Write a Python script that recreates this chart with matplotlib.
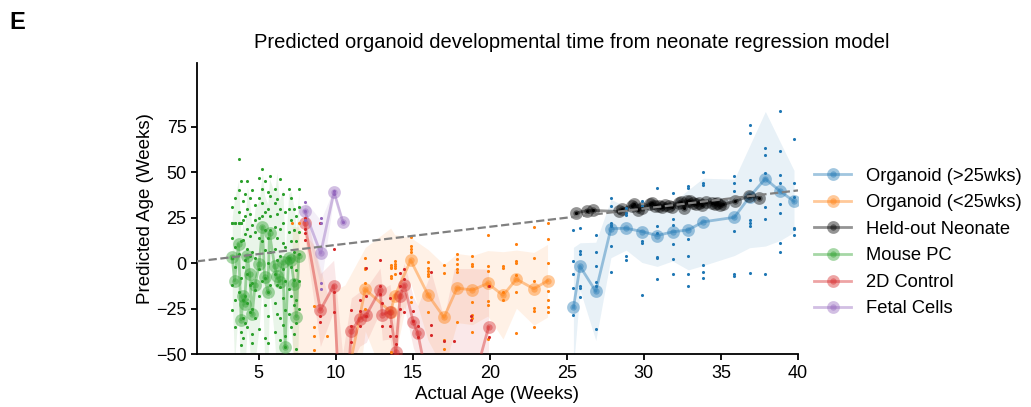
import matplotlib
matplotlib.use("Agg")
import matplotlib.pyplot as plt

plt.rcParams['font.family'] = ['Liberation Sans', 'DejaVu Sans']
plt.rcParams['font.size'] = 13

# ---- Organoid (>25 weeks) ----
org_late_weeks = [25.43, 25.86, 26.88, 27.86, 28.85, 29.87, 30.86, 31.86, 32.88,
                  33.85, 35.87, 36.86, 37.88, 38.85, 39.74]
org_late_mean = [-24.3, -1.8, -15.5, 19.0, 19.2, 17.4, 15.2, 17.2, 18.3,
                 22.7, 25.2, 36.5, 46.4, 39.5, 34.0]
org_late_spread = [33, 13, 27, 16, 12, 17, 17, 16, 22, 24, 21, 28, 37, 27, 17]
org_late_samples = [
    [18.3, 1.3, -6.0, -13.5, -28.5],
    [19.6, 6.8, 4.9, -12.4, -13.9, -18.8],
    [15.4, 6.2, -1.5, -10.6, -12.4, -36.2],
    [36.0, 31.4, 22.3, 21.0, 20.4, 9.5, -4.8],
    [30.2, 27.8, 26.3, 4.0, 1.6],
    [34.2, 31.4, 12.2, 11.3, -17.5],
    [41.5, 20.4, 16.8, 3.5, 2.9, -8.8],
    [38.8, 24.1, 21.0, 10.8, 2.2, -6.0],
    [42.4, 41.5, 13.5, 4.0, -5.7, -12.4],
    [50.1, 43.9, 42.8, -0.9, -4.8, -7.9],
    [47.9, 43.9, 39.7, 17.7, -5.7, -7.3],
    [76.2, 71.3, 45.7, 23.6, 21.9, 20.4, -5.5],
    [63.4, 59.2, 49.3, 31.1, 24.5, -6.0],
    [83.5, 61.6, 48.2, 44.2, 32.3, 27.8, 11.3, 6.4],
    [68.4, 44.2, 36.6, 19.6, 18.6, 15.5],
]

# ---- Organoid (<25 weeks) ----
org_early_weeks = [7.19, 7.62, 8.59, 9.46, 10.6, 11.92, 13.57, 13.83, 14.87, 16.0,
                   17.03, 17.88, 18.88, 19.87, 20.86, 21.73, 22.86, 23.75]
org_early_mean = [-55, -60, -62, -75, -70, -14.4, -26.7, -18.3, 1.6, -17.5,
                  -29.8, -13.7, -14.8, -11.1, -17.7, -8.8, -14.1, -9.7]
org_early_spread = [75, 80, 72, 58, 58, 23, 46, 34, 12.5, 25,
                    29, 19, 19, 18, 24, 16, 20, 20]
org_early_samples = [
    [21.9],
    [21.9],
    [-23.4, -34.9, -39.8, -47.7],
    [-39.8],
    [],
    [3.1, -2.9, -3.3, -11.0, -25.0],
    [-0.9, -2.0, -2.9, -7.0, -8.4, -49.0],
    [1.3, -0.5, -1.8, -2.9, -6.0],
    [14.6, 9.5, 7.7, 6.2, -18.8, -21.6],
    [0.7, -2.9, -4.2, -6.0, -7.3, -27.0],
    [-1.1, -5.5, -42.2, -47.1],
    [4.9, 2.2, -0.5, -3.3, -5.1, -32.5],
    [4.0, -0.5, -1.8, -21.2, -28.5, -30.3, -38.0],
    [15.4, -1.8, -4.2, -12.4, -20.7, -23.0, -41.7],
    [-1.8, -2.9, -15.7, -20.1],
    [10.4, 1.3, 0.0, -6.6, -15.7, -38.4],
    [19.9, 2.7, -9.7, -24.8, -26.2, -35.3],
    [22.3, 13.2, 0.0, -15.2, -20.1, -24.3, -26.7],
]

# ---- Held-out neonate samples ----
neonate_weeks = [25.6, 26.3, 26.7, 28.4, 28.6, 29.2, 29.35, 29.65, 29.9, 30.4,
                 30.55, 30.75, 30.95, 31.15, 31.4, 31.6, 31.8, 32.25, 32.4, 32.6,
                 32.8, 33.0, 33.2, 33.4, 33.6, 33.75, 34.05, 34.4, 34.6, 34.75,
                 34.95, 35.15, 35.9, 36.85, 37.45]
neonate_pred = [27.6, 28.9, 29.0, 28.4, 29.5, 31.6, 32.6, 29.2, 30.5, 32.5,
                33.0, 31.5, 31.6, 30.8, 32.1, 31.3, 31.0, 33.1, 33.4, 30.5,
                34.2, 34.1, 33.3, 32.7, 33.2, 32.0, 33.6, 33.3, 32.6, 32.9,
                31.8, 32.3, 34.0, 36.9, 36.0]

# ---- Mouse PC ----
mouse_weeks = [3.29, 3.44, 3.70, 3.87, 4.01, 4.09, 4.27, 4.42, 4.59, 4.77,
               5.04, 5.25, 5.39, 5.60, 5.71, 6.04, 6.19, 6.36, 6.58, 6.72,
               6.95, 7.10, 7.31, 7.45, 7.61]
mouse_mean = [3.4, -9.7, 10.4, -31.2, -17.9, -22.5, 4.0, -6.0, -28.2, -12.0,
              -0.5, 19.8, -7.8, -15.7, 16.4, -1.5, -7.0, -10.2, 0.7, -46.0,
              3.1, 1.5, -11.5, -29.4, 4.2]
mouse_spread = [22, 45, 35, 45, 42, 40, 38, 40, 45, 42,
                35, 30, 45, 48, 30, 40, 57, 45, 40, 50,
                35, 38, 42, 48, 35]
mouse_samples = [
    [22, 22, 14, 3, -12, -26, 31],
    [22, 22, 36, -2, -20, -35, 9],
    [57, 22, 22, 40, 28, 5, -16],
    [22, 22, 45, 12, -8, -38, -45],
    [34, 24, 13, -2, -20, -30, -41],
    [38, 26, 16, 2, -18, -33],
    [45, 30, 19, 8, -6, -22, -35],
    [36, 27, 15, 4, -12, -27],
    [40, 21, 6, -11, -25, -39, -44],
    [32, 24, 17, 3, -15, -30],
    [47, 36, 25, 14, -3, -18, -36],
    [52, 41, 33, 26, 12, -10],
    [45, 28, 18, 7, -8, -23, -41],
    [39, 30, 14, 0, -16, -29, -44],
    [48, 37, 26, 18, 6, -12],
    [41, 33, 20, 8, -6, -22, -38],
    [35, 27, 14, 2, -12, -28],
    [46, 30, 19, 4, -13, -30, -42],
    [38, 22, 11, -3, -19, -34],
    [28, 9, -10, -26, -40, -46],
    [41, 30, 17, 3, -14, -28],
    [36, 24, 12, -2, -18, -35],
    [30, 18, 6, -9, -23, -39],
    [26, 12, -4, -20, -33, -47],
    [41, 31, 17, 5, -10, -25],
]

# ---- 2D Control ----
control_weeks = [7.99, 9.01, 9.87, 10.45, 11.02, 11.56, 11.99, 12.88, 13.03, 13.53,
                 13.90, 14.18, 14.46, 15.04, 15.33, 16.2, 17.03, 17.7, 18.8, 19.92]
control_mean = [22.3, -25.8, -12.4, -110, -37.1, -30.7, -28.5, -14.8, -28.3, -26.7,
                -49.0, -18.3, -12.1, -32.5, -38.4, -75, -90, -85, -70, -35.3]
control_spread = [8, 20, 14, 60, 18, 15, 15, 12, 14, 15,
                  14, 12, 12, 14, 15, 70, 60, 82, 67, 32]
control_samples = [
    [25.0, 18.6, 16.8, 12.6],
    [22.3, -28.9, -32.5],
    [7.7, -16.1, -27.0],
    [],
    [-25.8, -34.4, -43.5],
    [-20.1, -26.1, -34.4],
    [-2.4, -17.9, -28.9],
    [1.6, -12.4, -17.0],
    [-22.0, -34.4],
    [-19.0, -34.4, -40.0],
    [-39.9, -44.4],
    [-5.5, -12.8, -25.2],
    [-3.3, -8.8, -27.0],
    [-26.1, -31.6],
    [-34.4, -40.7],
    [-5.1, -34.0, -39.7],
    [-42.6],
    [-42.9],
    [-29.2, -31.1],
    [-12.8, -40.7],
]

# ---- Fetal cells ----
fetal_weeks = [7.99, 9.03, 9.89, 10.47]
fetal_mean = [28.7, 5.5, 39.1, 22.6]
fetal_spread = [6, 18, 2, 1]
fetal_samples = [
    [33.6, 28.7, 24.0],
    [25.0, 22.3, -14.3, -11.0],
    [39.7, 37.8],
    [22.6],
]

x_ticks = [5, 10, 15, 20, 25, 30, 35, 40]
y_ticks = [-50, -25, 0, 25, 50, 75]

C_BLUE, C_ORANGE, C_GREEN = '#1f77b4', '#ff7f0e', '#2ca02c'
C_RED, C_PURPLE = '#d62728', '#9467bd'

fig = plt.figure(figsize=(10.31, 4.07), dpi=100)
ax = fig.add_axes([0.191, 0.130, 0.583, 0.715])

# mean markers: a wide translucent edge that covers the whole face gives a
# darker core with a soft halo around it
MEAN_STYLE = dict(marker='o', lw=2, ms=4.6, mew=4.6, alpha=0.42, zorder=3)
DOT_SIZE = 5


def draw_group(weeks, mean, spread, samples, color, label):
    lo = [m - s for m, s in zip(mean, spread)]
    hi = [m + s for m, s in zip(mean, spread)]
    ax.fill_between(weeks, lo, hi, color=color, alpha=0.1, lw=0, zorder=1)
    line, = ax.plot(weeks, mean, color=color, label=label, **MEAN_STYLE)
    for t, vals in zip(weeks, samples):
        ax.scatter([t] * len(vals), vals, s=DOT_SIZE, color=color, lw=0, zorder=4)
    return line


h_late = draw_group(org_late_weeks, org_late_mean, org_late_spread,
                    org_late_samples, C_BLUE, 'Organoid (>25wks)')
h_early = draw_group(org_early_weeks, org_early_mean, org_early_spread,
                     org_early_samples, C_ORANGE, 'Organoid (<25wks)')
h_neo, = ax.plot(neonate_weeks, neonate_pred, color='black',
                 label='Held-out Neonate', **MEAN_STYLE)
ax.scatter(neonate_weeks, neonate_pred, s=DOT_SIZE, color='black', lw=0, zorder=4)
h_mouse = draw_group(mouse_weeks, mouse_mean, mouse_spread, mouse_samples,
                     C_GREEN, 'Mouse PC')
h_ctrl = draw_group(control_weeks, control_mean, control_spread,
                    control_samples, C_RED, '2D Control')
h_fetal = draw_group(fetal_weeks, fetal_mean, fetal_spread, fetal_samples,
                     C_PURPLE, 'Fetal Cells')

# identity reference: predicted == actual
ax.axline((0, 0), slope=1, color='gray', ls='--', lw=1.6, zorder=5)

ax.set_xlim(1, 40)
ax.set_ylim(-50, 110)
ax.set_xticks(x_ticks)
ax.set_yticks(y_ticks)
for side in ('top', 'right'):
    ax.spines[side].set_visible(False)
for side in ('left', 'bottom'):
    ax.spines[side].set_linewidth(1.3)
ax.tick_params(width=1.3, length=4, labelsize=13)

ax.set_xlabel('Actual Age (Weeks)', fontsize=13.5, labelpad=3)
ax.set_ylabel('Predicted Age (Weeks)', fontsize=13.5, labelpad=1.5)

ax.legend(handles=[h_late, h_early, h_neo, h_mouse, h_ctrl, h_fetal],
          loc='center left', bbox_to_anchor=(1.0, 0.383), frameon=False,
          fontsize=13.2, handlelength=2.0, labelspacing=0.52)

fig.text(0.555, 0.895, 'Predicted organoid developmental time from neonate regression model',
         ha='center', va='center', fontsize=14.5)
fig.text(0.009, 0.945, 'E', ha='left', va='center', fontsize=17, fontweight='bold')

fig.savefig('out.png', dpi=100)
